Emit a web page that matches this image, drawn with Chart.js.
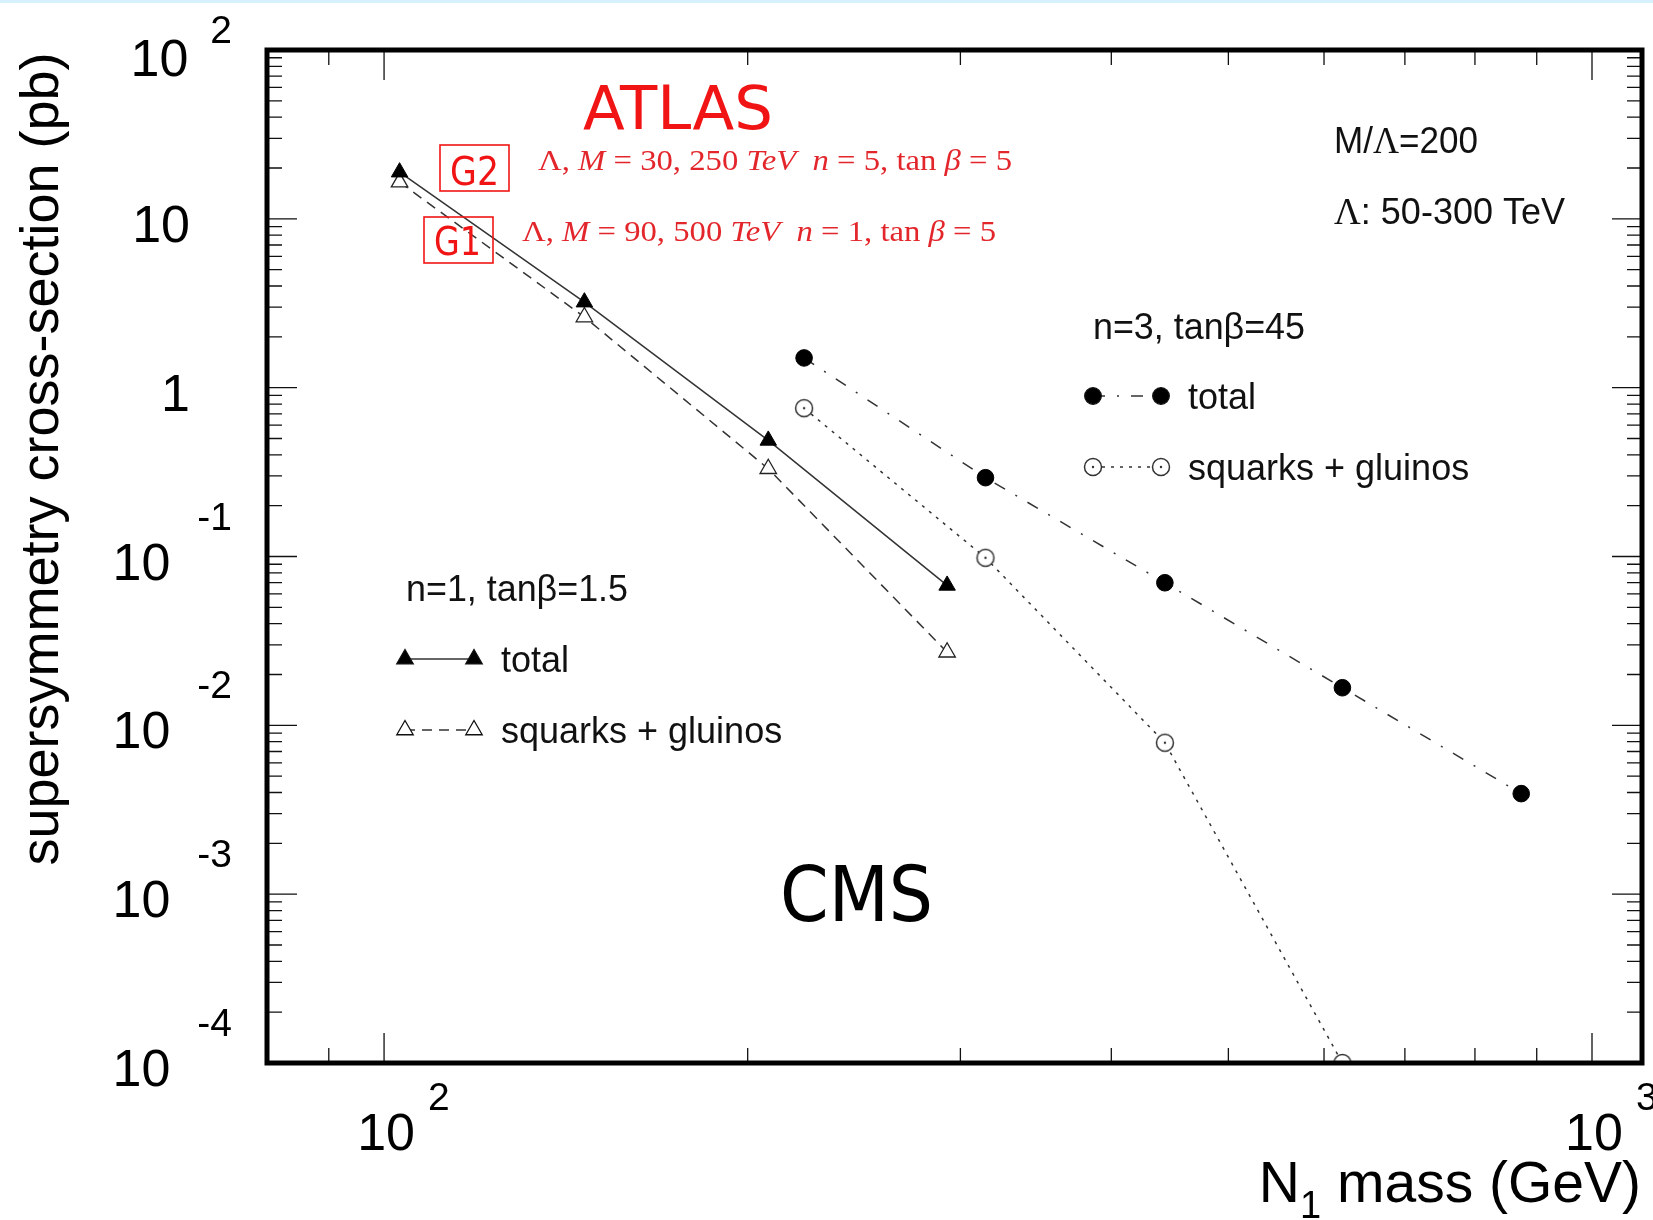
<!DOCTYPE html>
<html>
<head>
<meta charset="utf-8">
<script src="https://cdn.jsdelivr.net/npm/chart.js@4.4.1/dist/chart.umd.min.js"></script>
<style>
  html, body { margin: 0; padding: 0; background: #fff; }
  #wrap { position: relative; width: 1653px; height: 1220px; }
</style>
</head>
<body>
<div id="wrap"><canvas id="xsec" width="1653" height="1220"></canvas></div>
<script>
// DATA
// n=1, tanb=1.5
var n1Mass    = [103, 146.5, 208, 292.5];
var n1Total   = [18.9, 3.21, 0.487, 0.0674];
var n1Squarks = [16.5, 2.62, 0.331, 0.0271];

// n=3, tanb=45
var n3Mass    = [222.7, 314.7, 443, 621.4, 873.8];
var n3Total   = [1.50, 0.293, 0.0699, 0.0167, 0.00394];
var n3Squarks = [0.756, 0.0983, 0.00789, 0.0001];

// axis ranges and labelled decades
var xRange = [80, 1100];
var yRange = [1e-4, 100];
var xLabelExps = [2, 3];
var yLabelExps = [2, 1, 0, -1, -2, -3, -4];

// STYLE
var lineCol  = '#333';
var red      = '#f01414';
var sansFont = '"Liberation Sans", Arial, sans-serif';
var serif    = '"Liberation Serif", "Times New Roman", serif';
var vera     = '"DejaVu Sans", sans-serif';

var dashN1Sq  = [10, 7];
var dashN3Tot = [12, 12, 2, 12];
var dashN3Sq  = [3, 6];

// open circle with a dot in the middle (ROOT marker 27-ish)
function openDotCircle() {
  var c = document.createElement('canvas');
  c.width = 22; c.height = 22;
  var g = c.getContext('2d');
  g.fillStyle = '#fff';
  g.strokeStyle = '#333';
  g.lineWidth = 1.5;
  g.beginPath(); g.arc(11, 11, 8.5, 0, Math.PI * 2); g.fill(); g.stroke();
  g.fillStyle = '#333';
  g.beginPath(); g.arc(11, 11, 1.2, 0, Math.PI * 2); g.fill();
  return c;
}
var openCircle = openDotCircle();

function pairs(xs, ys) {
  return ys.map(function(v, i) { return { x: xs[i], y: v }; });
}

// text helpers
function fitText(ctx, segs, x, base, width, color) {
  ctx.save();
  var total = 0;
  segs.forEach(function(s) { ctx.font = s[1]; total += ctx.measureText(s[0]).width; });
  var k = width ? width / total : 1;
  ctx.translate(x, base);
  ctx.scale(k, 1);
  ctx.fillStyle = color;
  ctx.textAlign = 'left';
  ctx.textBaseline = 'alphabetic';
  var cx = 0;
  segs.forEach(function(s) {
    ctx.font = s[1];
    ctx.fillText(s[0], cx, s[2] || 0);
    cx += ctx.measureText(s[0]).width;
  });
  ctx.restore();
}

function legendRow(ctx, x1, x2, y, dash, pt, fill, label) {
  ctx.save();
  ctx.strokeStyle = lineCol;
  ctx.lineWidth = 1.5;
  ctx.setLineDash(dash);
  ctx.beginPath(); ctx.moveTo(x1, y); ctx.lineTo(x2, y); ctx.stroke();
  ctx.setLineDash([]);
  ctx.fillStyle = fill;
  ctx.strokeStyle = '#111';
  ctx.lineWidth = 1.3;
  var opts = { pointStyle: pt.style, radius: pt.radius, rotation: 0, borderWidth: 1.3 };
  Chart.helpers.drawPoint(ctx, opts, x1, y);
  Chart.helpers.drawPoint(ctx, opts, x2, y);
  ctx.restore();
  fitText(ctx, [[label, '36px ' + sansFont]], x2 + 27, y + 13, 0, '#111');
}

var frame = {
  id: 'rootFrame',
  beforeDraw: function(chart) {
    var ctx = chart.ctx;
    ctx.save();
    ctx.fillStyle = '#fff';
    ctx.fillRect(0, 0, chart.width, chart.height);
    ctx.fillStyle = '#d6f1fb';
    ctx.fillRect(0, 0, chart.width, 3);
    ctx.restore();
  },
  afterDraw: function(chart) {
    var ctx = chart.ctx;
    var a = chart.chartArea;
    var xs = chart.scales.x, ys = chart.scales.y;
    var d, m, v, p, len;

    ctx.save();
    // ticks
    ctx.strokeStyle = '#111';
    ctx.lineWidth = 1.3;
    ctx.beginPath();
    for (d = 1; d <= 3; d++) {
      for (m = 1; m <= 9; m++) {
        v = m * Math.pow(10, d);
        if (v <= xRange[0] || v > xRange[1]) continue;
        p = xs.getPixelForValue(v);
        len = m === 1 ? 30 : 15;
        ctx.moveTo(p, a.bottom); ctx.lineTo(p, a.bottom - len);
        ctx.moveTo(p, a.top);    ctx.lineTo(p, a.top + len);
      }
    }
    for (d = -4; d <= 1; d++) {
      for (m = 1; m <= 9; m++) {
        v = m * Math.pow(10, d);
        if (v <= yRange[0] || v >= yRange[1]) continue;
        p = ys.getPixelForValue(v);
        len = m === 1 ? 30 : 15;
        ctx.moveTo(a.left, p);  ctx.lineTo(a.left + len, p);
        ctx.moveTo(a.right, p); ctx.lineTo(a.right - len, p);
      }
    }
    ctx.stroke();

    // frame
    ctx.lineWidth = 5;
    ctx.strokeStyle = '#000';
    ctx.strokeRect(a.left, a.top, a.right - a.left, a.bottom - a.top);
    ctx.restore();

    // y tick labels
    var big = '52px ' + sansFont, small = '39px ' + sansFont;
    ctx.save();
    ctx.fillStyle = '#000';
    ctx.textBaseline = 'alphabetic';
    yLabelExps.forEach(function(e) {
      var py = ys.getPixelForValue(Math.pow(10, e));
      if (e === 1 || e === 0) {
        ctx.font = big; ctx.textAlign = 'right';
        ctx.fillText(e === 1 ? '10' : '1', 190, py + 23);
        return;
      }
      var ex = String(e);
      ctx.font = small;
      var ew = ctx.measureText(ex).width;
      ctx.textAlign = 'left';
      var exY = e === 2 ? py - 7 : py - 27;
      ctx.fillText(ex, 232 - ew, exY);
      ctx.font = big; ctx.textAlign = 'right';
      var gap = e === 2 ? 22 : 27;
      ctx.fillText('10', 232 - ew - gap, Math.max(py + 23, 76));
    });

    // x tick labels
    xLabelExps.forEach(function(e) {
      var px = xs.getPixelForValue(Math.pow(10, e));
      ctx.font = big; ctx.textAlign = 'center';
      ctx.fillText('10', px + 2, 1150);
      var w = ctx.measureText('10').width;
      ctx.font = small; ctx.textAlign = 'left';
      ctx.fillText(String(e), px + 2 + w / 2 + 13, 1110);
    });

    // axis titles
    ctx.save();
    ctx.translate(58, 459);
    ctx.rotate(-Math.PI / 2);
    ctx.font = '54px ' + sansFont;
    ctx.textAlign = 'center';
    ctx.fillText('supersymmetry cross-section (pb)', 0, 0);
    ctx.restore();

    ctx.font = '57px ' + sansFont;
    var t1 = ' mass (GeV)';
    var w1 = ctx.measureText(t1).width;
    ctx.textAlign = 'right';
    ctx.fillText(t1, 1641, 1202);
    ctx.font = '38px ' + sansFont;
    var ws = ctx.measureText('1').width;
    ctx.fillText('1', 1641 - w1, 1218);
    ctx.font = '57px ' + sansFont;
    ctx.fillText('N', 1641 - w1 - ws, 1202);
    ctx.restore();

    // red annotations
    fitText(ctx, [['ATLAS', '60px ' + vera]], 583, 129, 190, red);

    ctx.save();
    ctx.strokeStyle = red;
    ctx.lineWidth = 1.6;
    ctx.strokeRect(440, 145, 69, 46);
    ctx.strokeRect(424, 217, 69, 46);
    ctx.restore();
    fitText(ctx, [['G2', '39px ' + vera]], 450, 185, 49, red);
    fitText(ctx, [['G1', '39px ' + vera]], 434, 255, 47, red);

    var rm = '30px ' + serif, it = 'italic 30px ' + serif;
    fitText(ctx, [['\u039B, ', rm], ['M', it], [' = 30, 250 ', rm], ['TeV', it], ['  ', rm],
                  ['n', it], [' = 5, tan ', rm], ['\u03B2', it], [' = 5', rm]], 538, 170, 474, '#e3262b');
    fitText(ctx, [['\u039B, ', rm], ['M', it], [' = 90, 500 ', rm], ['TeV', it], ['  ', rm],
                  ['n', it], [' = 1, tan ', rm], ['\u03B2', it], [' = 5', rm]], 522, 241, 474, '#e3262b');

    // black annotations
    var s36 = '36px ' + sansFont, g36 = '37px ' + serif;
    fitText(ctx, [['M/', s36], ['\u039B', g36], ['=200', s36]], 1334, 153, 144, '#111');
    fitText(ctx, [['\u039B', g36], [': 50-300 TeV', s36]], 1334, 224, 231, '#111');
    fitText(ctx, [['n=3, tan\u03B2=45', s36]], 1093, 339, 212, '#111');
    fitText(ctx, [['n=1, tan\u03B2=1.5', s36]], 406, 601, 222, '#111');

    legendRow(ctx, 1093, 1161, 396, dashN3Tot, { style: 'circle', radius: 8.3 }, '#000', 'total');
    legendRow(ctx, 1093, 1161, 467, dashN3Sq, { style: openCircle, radius: 8.5 }, '#fff', 'squarks + gluinos');
    legendRow(ctx, 405, 474, 659, [], { style: 'triangle', radius: 9.5 }, '#000', 'total');
    legendRow(ctx, 405, 474, 730, dashN1Sq, { style: 'triangle', radius: 9.5 }, '#fff', 'squarks + gluinos');

    fitText(ctx, [['CMS', '76px ' + vera]], 780, 921, 153, '#000');
  }
};

var datasets = [
  {
    label: 'n=1 total',
    data: pairs(n1Mass, n1Total),
    borderColor: lineCol, borderWidth: 1.5,
    pointStyle: 'triangle', pointRadius: 9.5,
    pointBackgroundColor: '#000', pointBorderColor: '#000', pointBorderWidth: 1
  },
  {
    label: 'n=1 squarks + gluinos',
    data: pairs(n1Mass, n1Squarks),
    borderColor: lineCol, borderWidth: 1.5, borderDash: dashN1Sq,
    pointStyle: 'triangle', pointRadius: 9.5,
    pointBackgroundColor: '#fff', pointBorderColor: '#222', pointBorderWidth: 1.3
  },
  {
    label: 'n=3 total',
    data: pairs(n3Mass, n3Total),
    borderColor: lineCol, borderWidth: 1.5, borderDash: dashN3Tot,
    pointStyle: 'circle', pointRadius: 8.3,
    pointBackgroundColor: '#000', pointBorderColor: '#000', pointBorderWidth: 1
  },
  {
    label: 'n=3 squarks + gluinos',
    data: pairs(n3Mass, n3Squarks),
    borderColor: lineCol, borderWidth: 1.5, borderDash: dashN3Sq,
    pointStyle: openCircle, pointRadius: 8.5
  }
];

var chart = new Chart(document.getElementById('xsec'), {
  type: 'scatter',
  data: { datasets: datasets },
  options: {
    responsive: false,
    animation: false,
    devicePixelRatio: 1,
    showLine: true,
    layout: { padding: { left: 267, right: 11, top: 50, bottom: 157 } },
    elements: { line: { tension: 0, fill: false } },
    scales: {
      x: { type: 'logarithmic', min: xRange[0], max: xRange[1], display: false },
      y: { type: 'logarithmic', min: yRange[0], max: yRange[1], display: false }
    },
    plugins: {
      legend: { display: false },
      tooltip: { enabled: false }
    }
  },
  plugins: [frame]
});
</script>
</body>
</html>
